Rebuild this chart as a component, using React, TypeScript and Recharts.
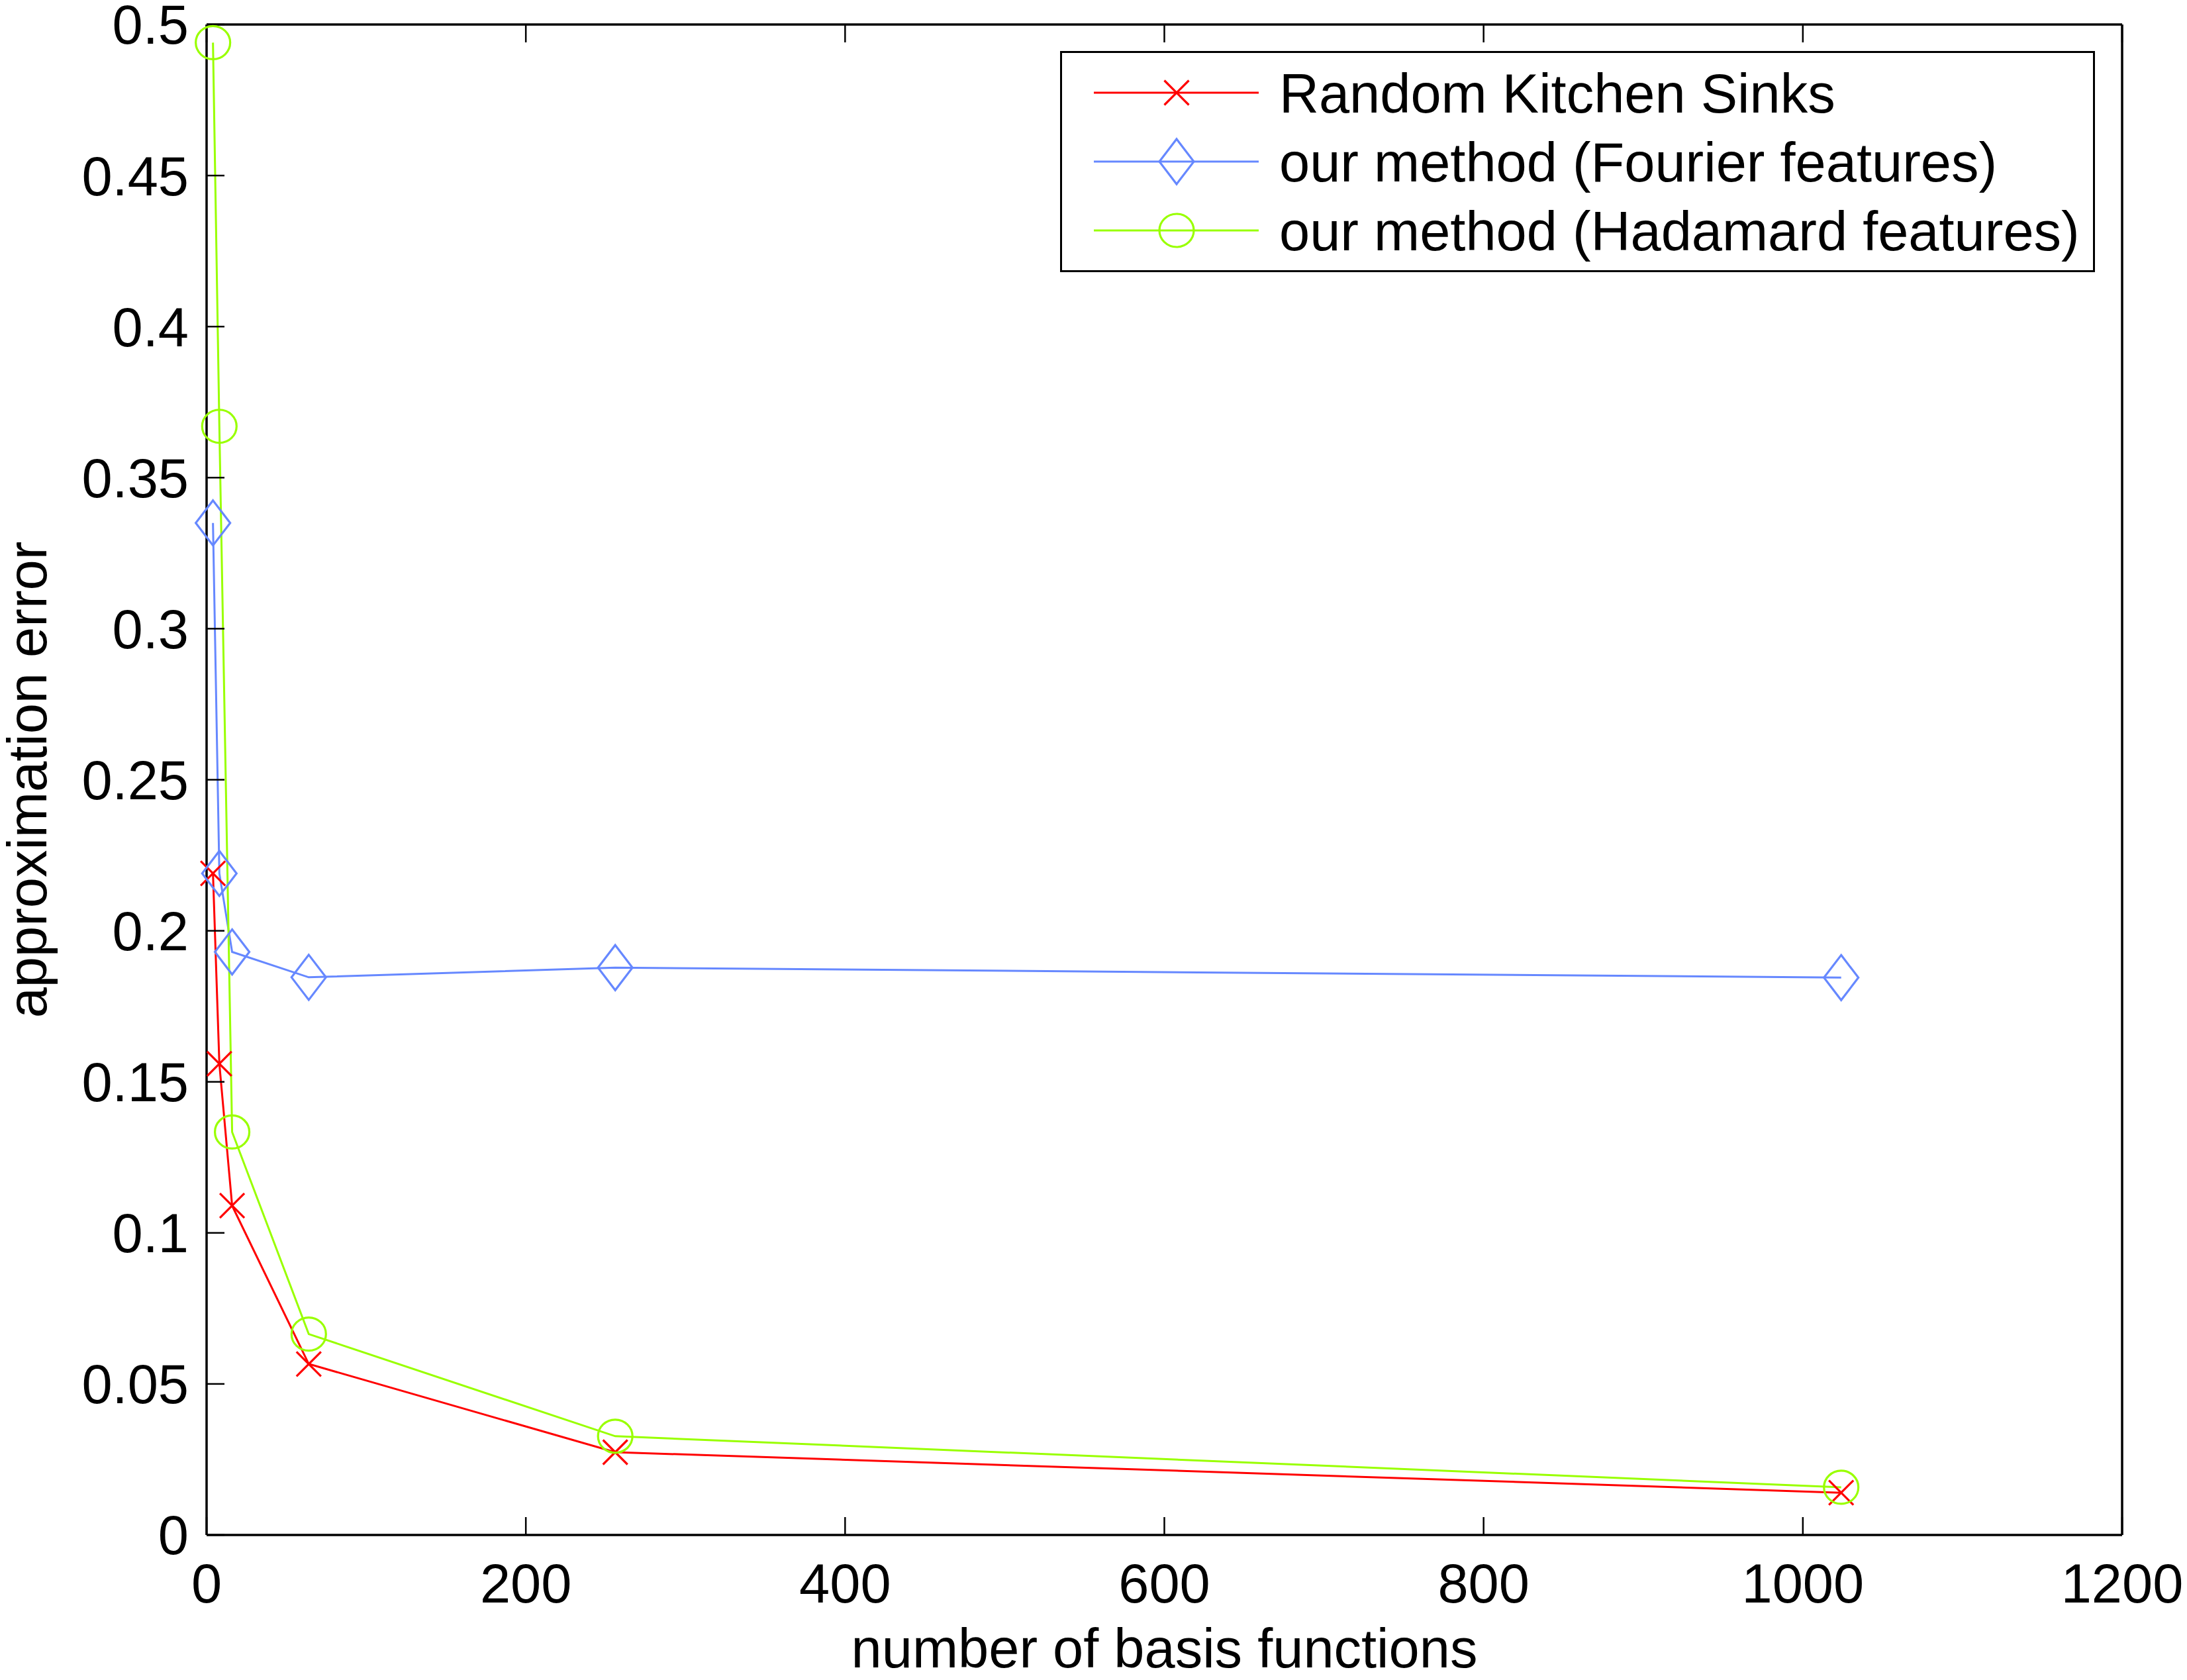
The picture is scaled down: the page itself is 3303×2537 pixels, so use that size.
import React from "react";
import {
  LineChart, Line, XAxis, YAxis, Legend, Label,
} from "recharts";

// number of basis functions
const basisCounts = [4, 8, 16, 64, 256, 1024];

// approximation error per method
const kitchenSinks = [0.219, 0.156, 0.109, 0.0566, 0.0274, 0.014];
const fourierFeatures = [0.335, 0.219, 0.193, 0.1846, 0.1878, 0.1845];
const hadamardFeatures = [0.494, 0.367, 0.1334, 0.0665, 0.0327, 0.0158];

const xTicks = [0, 200, 400, 600, 800, 1000, 1200];
const yTicks = [0, 0.05, 0.1, 0.15, 0.2, 0.25, 0.3, 0.35, 0.4, 0.45, 0.5];

const seriesNames = [
  "Random Kitchen Sinks",
  "our method (Fourier features)",
  "our method (Hadamard features)",
];

const RED = "#ff0000";
const BLUE = "#6688ff";
const GREEN = "#99ff00";
const FONT = "'Liberation Sans', Arial, Helvetica, sans-serif";
const FS = 83;

const data = basisCounts.map((n, i) => ({
  n,
  rks: kitchenSinks[i],
  fourier: fourierFeatures[i],
  hadamard: hadamardFeatures[i],
}));

function Cross({ cx, cy, color }: { cx: number; cy: number; color: string }) {
  const s = 18.5;
  return (
    <g stroke={color} strokeWidth={3.2} fill="none">
      <line x1={cx - s} y1={cy - s} x2={cx + s} y2={cy + s} />
      <line x1={cx - s} y1={cy + s} x2={cx + s} y2={cy - s} />
    </g>
  );
}

function Diamond({ cx, cy, color }: { cx: number; cy: number; color: string }) {
  const w = 26, h = 34;
  return (
    <path
      d={`M${cx},${cy - h} L${cx + w},${cy} L${cx},${cy + h} L${cx - w},${cy} Z`}
      stroke={color} strokeWidth={3.2} fill="none"
    />
  );
}

function Ring({ cx, cy, color }: { cx: number; cy: number; color: string }) {
  return <ellipse cx={cx} cy={cy} rx={26} ry={25} stroke={color} strokeWidth={3.2} fill="none" />;
}

const markers = [
  { name: seriesNames[0], color: RED, Shape: Cross },
  { name: seriesNames[1], color: BLUE, Shape: Diamond },
  { name: seriesNames[2], color: GREEN, Shape: Ring },
];

function LegendBox() {
  return (
    <svg width={1563} height={334} style={{ display: "block" }}>
      <rect x={1.5} y={1.5} width={1560} height={331} fill="#fff" stroke="#000" strokeWidth={3} />
      {markers.map((m, i) => {
        const cy = 63 + i * 104;
        return (
          <g key={m.name}>
            <line x1={51} x2={300} y1={cy} y2={cy} stroke={m.color} strokeWidth={3} />
            <m.Shape cx={176} cy={cy} color={m.color} />
            <text x={331} y={cy + 30} fontSize={FS} fontFamily={FONT} fill="#000">{m.name}</text>
          </g>
        );
      })}
    </svg>
  );
}

const noLabel = () => <g />;

export default function App() {
  const tickStyle = { fontSize: FS, fontFamily: FONT, fill: "#000" };
  const axisLine = { stroke: "#000", strokeWidth: 3.5 };
  const tickLine = { stroke: "#000", strokeWidth: 2.5 };

  return (
    <div style={{ position: "absolute", left: 0, top: 0, background: "#fff" }}>
      <LineChart
        width={3303}
        height={2537}
        data={data}
        margin={{ top: 36, right: 97, bottom: 0, left: 0 }}
      >
        <XAxis
          dataKey="n" type="number" domain={[0, 1200]} ticks={xTicks} interval={0}
          height={219} tickSize={-27} tickMargin={70}
          tick={tickStyle} axisLine={axisLine} tickLine={tickLine}
        >
          <Label
            value="number of basis functions" position="insideBottom" offset={19}
            style={{ fontSize: FS, fontFamily: FONT, fill: "#000" }}
          />
        </XAxis>
        <XAxis
          xAxisId="top" orientation="top" dataKey="n" type="number" domain={[0, 1200]}
          ticks={xTicks} interval={0} height={1} tickSize={-27}
          tick={noLabel} axisLine={axisLine} tickLine={tickLine}
        />
        <YAxis
          type="number" domain={[0, 0.5]} ticks={yTicks} interval={0}
          width={312} tickSize={-27} tickMargin={54}
          tick={tickStyle} axisLine={axisLine} tickLine={tickLine}
          tickFormatter={(v: number) => String(Number(v.toFixed(2)))}
        >
          <Label
            content={(props: any) => {
              const vb = props.viewBox || { x: 0, y: 37, width: 312, height: 2281 };
              const x = vb.x + 70;
              const y = vb.y + vb.height / 2;
              return (
                <text
                  x={x} y={y} transform={`rotate(-90 ${x} ${y})`} textAnchor="middle"
                  fontSize={FS} fontFamily={FONT} fill="#000"
                >
                  approximation error
                </text>
              );
            }}
          />
        </YAxis>
        <YAxis
          yAxisId="right" orientation="right" type="number" domain={[0, 0.5]}
          ticks={yTicks} interval={0} width={1} tickSize={-27}
          tick={noLabel} axisLine={axisLine} tickLine={tickLine}
        />
        <Legend
          layout="vertical" align="center" verticalAlign="middle"
          wrapperStyle={{ position: "absolute", left: 1601, top: 77, width: 1563, height: 334 }}
          content={() => <LegendBox />}
        />
        <Line
          dataKey="rks" name={seriesNames[0]} stroke={RED} strokeWidth={3}
          isAnimationActive={false}
          dot={(p: any) => <Cross key={`r${p.index}`} cx={p.cx} cy={p.cy} color={RED} />}
        />
        <Line
          dataKey="fourier" name={seriesNames[1]} stroke={BLUE} strokeWidth={3}
          isAnimationActive={false}
          dot={(p: any) => <Diamond key={`f${p.index}`} cx={p.cx} cy={p.cy} color={BLUE} />}
        />
        <Line
          dataKey="hadamard" name={seriesNames[2]} stroke={GREEN} strokeWidth={3}
          isAnimationActive={false}
          dot={(p: any) => <Ring key={`h${p.index}`} cx={p.cx} cy={p.cy} color={GREEN} />}
        />
      </LineChart>
    </div>
  );
}
